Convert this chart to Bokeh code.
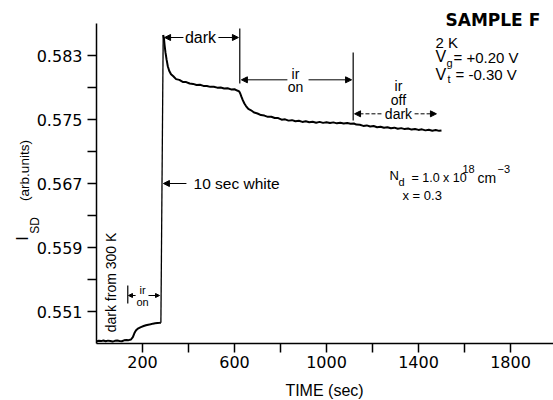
from math import pi
from bokeh.plotting import figure
from bokeh.models import Range1d, FixedTicker, PrintfTickFormatter, Label, Arrow, NormalHead
from bokeh.embed import file_html
from bokeh.resources import INLINE

# ---------------- data ----------------
# dark from 300 K, then ir on (before the white flash)
pre_t = [0, 10, 20, 30, 40, 50, 60, 70, 80, 90, 100, 110, 120, 130, 140, 150,
         158, 165, 172, 182, 193, 205, 215, 225, 235, 245, 255, 265, 275, 280]
pre_I = [0.54725, 0.54735, 0.54730, 0.54738, 0.54728, 0.54736, 0.54730, 0.54724,
         0.54733, 0.54738, 0.54731, 0.54728, 0.54740, 0.54745, 0.54742, 0.54750,
         0.54780, 0.54830, 0.54865, 0.54890, 0.54905, 0.54918, 0.54928, 0.54935,
         0.54940, 0.54948, 0.54952, 0.54955, 0.54958, 0.54960]

# after 10 sec white
post_t = [290, 293, 296, 300, 305, 310, 316, 324, 334, 346, 360, 375, 390, 405, 420,
          435, 450, 465, 480, 495, 510, 525, 540, 555, 570, 585, 600, 612, 620, 625,
          630, 636, 643, 650, 660, 672, 685, 700, 715, 730, 745, 760, 775, 790, 805,
          820, 835, 850, 865, 880, 895, 910, 925, 940, 955, 970, 985, 1000, 1015, 1030,
          1045, 1060, 1075, 1090, 1105, 1119, 1130, 1145, 1160, 1175, 1190, 1205, 1220,
          1235, 1250, 1265, 1280, 1295, 1310, 1325, 1340, 1355, 1370, 1385, 1400, 1415,
          1430, 1445, 1460, 1475, 1490, 1500]
post_I = [0.58555, 0.58520, 0.58430, 0.58335, 0.58245, 0.58165, 0.58110, 0.58065,
          0.58040, 0.58005, 0.57995, 0.57970, 0.57968, 0.57950, 0.57945, 0.57932,
          0.57934, 0.57920, 0.57918, 0.57908, 0.57910, 0.57898, 0.57900, 0.57888,
          0.57890, 0.57876, 0.57878, 0.57862, 0.57852, 0.57825, 0.57785, 0.57742,
          0.57700, 0.57668, 0.57632, 0.57615, 0.57588, 0.57575, 0.57555, 0.57549,
          0.57533, 0.57534, 0.57518, 0.57518, 0.57498, 0.57502, 0.57486, 0.57492,
          0.57478, 0.57484, 0.57470, 0.57478, 0.57466, 0.57472, 0.57460, 0.57470,
          0.57458, 0.57466, 0.57456, 0.57464, 0.57452, 0.57460, 0.57450, 0.57456,
          0.57446, 0.57450, 0.57436, 0.57434, 0.57420, 0.57426, 0.57412, 0.57418,
          0.57404, 0.57410, 0.57396, 0.57404, 0.57390, 0.57398, 0.57384, 0.57392,
          0.57380, 0.57388, 0.57374, 0.57382, 0.57370, 0.57377, 0.57364, 0.57372,
          0.57360, 0.57368, 0.57358, 0.57362]

x_major = [200, 600, 1000, 1400, 1800]
x_minor = [400, 800, 1200, 1600]
y_major = [0.551, 0.559, 0.567, 0.575, 0.583]
y_minor = [0.555, 0.563, 0.571, 0.579]
x_bounds = (0, 1987)
y_bounds = (0.547, 0.587)

# event times (sec)
t_white = 285
t_dark_end = 623
t_ir_end = 1116
t_off_end = 1478

FONT = "Liberation Sans"
TICKFONT = "DejaVu Sans"

# ---------------- figure ----------------
W, H = 553, 400
# the frame covers the whole page; the axes are fixed at t = 0 and I = 0.547
p = figure(width=W, height=H,
           x_range=Range1d(-417.4, 1987), y_range=Range1d(0.539875, 0.589875),
           output_backend="svg", toolbar_location=None,
           min_border_left=0, min_border_right=0, min_border_top=0, min_border_bottom=0)
p.outline_line_color = None
p.xgrid.visible = False
p.ygrid.visible = False
p.background_fill_color = "white"
p.border_fill_color = "white"

p.xaxis.fixed_location = y_bounds[0]
p.yaxis.fixed_location = x_bounds[0]
p.xaxis.bounds = x_bounds
p.yaxis.bounds = y_bounds
p.xaxis.ticker = FixedTicker(ticks=x_major, minor_ticks=x_minor)
p.yaxis.ticker = FixedTicker(ticks=y_major, minor_ticks=y_minor)
p.xaxis.formatter = PrintfTickFormatter(format="%d")
p.yaxis.formatter = PrintfTickFormatter(format="%.3f")
for ax in (p.xaxis, p.yaxis):
    ax.axis_line_color = "black"
    ax.axis_line_width = 1.5
    ax.major_tick_line_color = "black"
    ax.minor_tick_line_color = "black"
    ax.major_tick_line_width = 1.5
    ax.minor_tick_line_width = 1.5
    ax.major_tick_in = 0
    ax.major_tick_out = 9
    ax.minor_tick_in = 0
    ax.minor_tick_out = 9
    ax.major_label_text_font = TICKFONT
    ax.major_label_text_font_size = "16px"
    ax.major_label_text_color = "black"
p.yaxis.major_label_standoff = 5
p.xaxis.major_label_standoff = 3

# ---------------- curve ----------------
p.line(pre_t, pre_I, line_color="black", line_width=2)
p.line(post_t, post_I, line_color="black", line_width=2)
p.line([pre_t[-1], post_t[0]], [pre_I[-1], post_I[0]], line_color="black", line_width=1.3)

# vertical markers
p.segment(x0=[t_dark_end, t_ir_end], y0=[0.58638, 0.58338],
          x1=[t_dark_end, t_ir_end], y1=[0.57950, 0.57488],
          line_color="black", line_width=1.2)
p.segment(x0=[136], y0=[0.55425], x1=[136], y1=[0.55200], line_color="black", line_width=1.2)


def arrow(x0, y0, x1, y1, size=6, dash="solid"):
    p.add_layout(Arrow(end=NormalHead(size=size, fill_color="black", line_color="black", line_width=1),
                       x_start=x0, y_start=y0, x_end=x1, y_end=y1,
                       line_color="black", line_width=1, line_dash=dash))


def txt(x, y, s, size, align="center", angle=0, units="data", font=FONT, style="normal"):
    p.add_layout(Label(x=x, y=y, x_units=units, y_units=units, text=s, text_font=font,
                       text_font_size=f"{size}px", text_align=align, text_baseline="middle",
                       angle=angle, text_color="black", text_font_style=style))


def stxt(px, py, s, size, align="left", angle=0, font=FONT, style="normal"):
    txt(px, H - py, s, size, align=align, angle=angle, units="screen", font=font, style=style)


# "dark" after the flash
arrow(378, 0.58525, t_white + 11, 0.58525)
arrow(530, 0.58525, t_dark_end - 6, 0.58525)
txt(452, 0.58525, "dark", 16)

# "ir on"
arrow(830, 0.57996, t_dark_end + 7, 0.57996)
arrow(922, 0.57996, t_ir_end - 7, 0.57996)
txt(865, 0.58071, "ir", 14)
txt(865, 0.57904, "on", 14)

# "ir off dark"
arrow(1239, 0.57571, t_ir_end + 6, 0.57571, dash="4 2")
arrow(1383, 0.57571, t_off_end, 0.57571, dash="4 2")
txt(1313, 0.57925, "ir", 14)
txt(1313, 0.57738, "off", 14)
txt(1313, 0.57563, "dark", 14)

# "10 sec white"
arrow(391, 0.567, t_white + 6, 0.567)
txt(422, 0.567, "10 sec white", 15.5, align="left")

# "dark from 300 K"
txt(65, 0.55463, "dark from 300 K", 14, angle=pi / 2)

# small "ir on" before the flash
arrow(170, 0.553, 139, 0.553, size=4)
arrow(226, 0.553, t_white - 11, 0.553, size=4)
txt(200, 0.55363, "ir", 11)
txt(200, 0.55219, "on", 11)

# ---------------- page texts ----------------
stxt(445, 19, "SAMPLE F", 17, font=TICKFONT, style="bold")
stxt(435, 42, "2  K", 15)
stxt(435, 56, "V", 16)
stxt(446, 62, "g", 11)
stxt(453, 57, "= +0.20  V", 15)
stxt(435, 74, "V", 16)
stxt(447, 78, "t", 11)
stxt(455, 74, "= -0.30  V", 15)

stxt(389, 175, "N", 13)
stxt(398, 181, "d", 11)
stxt(411, 177, "= 1.0 x 10", 12.5)
stxt(462, 168, "18", 11)
stxt(477, 177, "cm", 14)
stxt(497, 168, "\u22123", 11)
stxt(402, 195, "x = 0.3", 13)

stxt(22, 238, "I", 16, align="center", angle=pi / 2)
stxt(34, 225, "SD", 12, align="center", angle=pi / 2)
stxt(24, 170, "(arb.units)", 13.5, align="center", angle=pi / 2)

stxt(324, 390, "TIME (sec)", 16, align="center")

open("out.html", "w").write(file_html(p, INLINE))
